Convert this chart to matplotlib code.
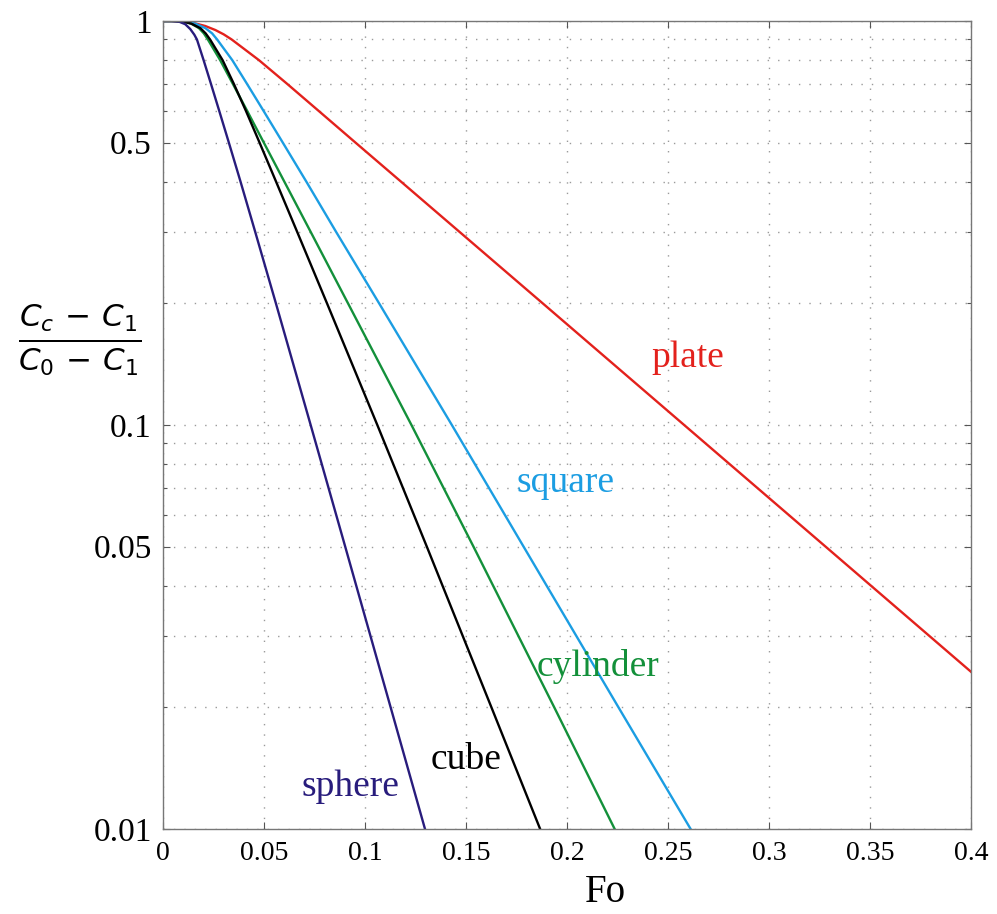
import numpy as np
import matplotlib
matplotlib.use("Agg")
import matplotlib.pyplot as plt
from matplotlib.ticker import FixedLocator, NullFormatter

# values (Fo, centre concentration ratio)
plate_fo = [0, 0.004, 0.0098, 0.0154, 0.0209, 0.0259, 0.030, 0.034, 0.0475, 0.0613, 0.0769,
            0.0953, 0.1179, 0.147, 0.188, 0.258, 0.328, 0.400]
plate_c = [1.0, 1.0, 0.997, 0.988, 0.972, 0.95, 0.927, 0.9, 0.8, 0.7, 0.6,
           0.5, 0.4, 0.3, 0.2, 0.1, 0.05, 0.0245]

square_fo = [0, 0.006, 0.011, 0.016, 0.021, 0.0243, 0.0268, 0.0343, 0.0415, 0.0497, 0.0593, 0.0710,
             0.0858, 0.1070, 0.1430, 0.1785, 0.2255, 0.2612]
square_c = [1.0, 1.0, 0.997, 0.985, 0.96, 0.932, 0.9, 0.8, 0.7, 0.6, 0.5, 0.4,
            0.3, 0.2, 0.1, 0.05, 0.02, 0.01]

cylinder_fo = [0, 0.006, 0.010, 0.014, 0.0178, 0.0202, 0.0222, 0.0283, 0.0345, 0.0416, 0.0499, 0.0601,
               0.0732, 0.0916, 0.1230, 0.1537, 0.1937, 0.2236]
cylinder_c = [1.0, 1.0, 0.997, 0.985, 0.96, 0.932, 0.9, 0.8, 0.7, 0.6, 0.5, 0.4,
              0.3, 0.2, 0.1, 0.05, 0.02, 0.01]

cube_fo = [0, 0.006, 0.010, 0.014, 0.0185, 0.0211, 0.0233, 0.0295, 0.0350, 0.0410, 0.0478, 0.0560,
           0.0665, 0.0812, 0.1061, 0.1306, 0.1626, 0.1867]
cube_c = [1.0, 1.0, 0.997, 0.985, 0.96, 0.932, 0.9, 0.8, 0.7, 0.6, 0.5, 0.4,
          0.3, 0.2, 0.1, 0.05, 0.02, 0.01]

sphere_fo = [0, 0.004, 0.008, 0.011, 0.0135, 0.0155, 0.0168, 0.0201, 0.0237, 0.0278, 0.0326,
             0.0384, 0.0457, 0.0559, 0.0731, 0.0902, 0.1127, 0.1297]
sphere_c = [1.0, 1.0, 0.996, 0.982, 0.955, 0.925, 0.9, 0.8, 0.7, 0.6, 0.5,
            0.4, 0.3, 0.2, 0.1, 0.05, 0.02, 0.01]

x_ticks = [0, 0.05, 0.1, 0.15, 0.2, 0.25, 0.3, 0.35, 0.4]
x_labels = ["0", "0.05", "0.1", "0.15", "0.2", "0.25", "0.3", "0.35", "0.4"]
y_ticks = [0.01, 0.05, 0.1, 0.5, 1]
y_labels = ["0.01", "0.05", "0.1", "0.5", "1"]
y_minor = [0.02, 0.03, 0.04, 0.06, 0.07, 0.08, 0.09, 0.2, 0.3, 0.4, 0.6, 0.7, 0.8, 0.9]

SERIF = "Liberation Serif"
plt.rcParams["font.family"] = SERIF
plt.rcParams["mathtext.fontset"] = "dejavusans"

fig = plt.figure(figsize=(9.97, 9.14), dpi=100)
ax = fig.add_axes([163 / 997, 85 / 914, 808 / 997, 808 / 914])

curves = [
    (plate_fo, plate_c, "#e3211c", "plate", 0.260, 0.147),
    (square_fo, square_c, "#1b9de2", "square", 0.1995, 0.0718),
    (cylinder_fo, cylinder_c, "#13903a", "cylinder", 0.2153, 0.0252),
    (cube_fo, cube_c, "#000000", "cube", 0.150, 0.0148),
    (sphere_fo, sphere_c, "#281c7c", "sphere", 0.0926, 0.0127),
]

for fo, c, color, name, tx, ty in curves:
    ax.plot(fo, c, color=color, lw=1.7, solid_joinstyle="round")
    ax.text(tx, ty, name, color=color, fontsize=27, ha="center", va="center")

ax.set_yscale("log")
ax.set_xlim(0, 0.4)
ax.set_ylim(0.01, 1)

ax.xaxis.set_major_locator(FixedLocator(x_ticks))
ax.set_xticklabels(x_labels)
ax.yaxis.set_major_locator(FixedLocator(y_ticks))
ax.set_yticklabels(y_labels)
ax.yaxis.set_minor_locator(FixedLocator(y_minor))
ax.yaxis.set_minor_formatter(NullFormatter())

ax.tick_params(axis="both", which="major", direction="in", length=5, width=0.8,
               colors="#555555", labelcolor="black", top=True, right=True)
ax.tick_params(axis="x", labelsize=20, pad=9)
ax.tick_params(axis="y", labelsize=24, pad=8)
ax.tick_params(axis="y", which="minor", direction="in", length=3, width=0.8,
               colors="#555555", right=True)

# sparse dotted grid like the original
ax.grid(True, which="major", axis="x", color="#9a9a9a", ls=(0, (1, 6.5)), lw=1.0)
ax.grid(True, which="both", axis="y", color="#9a9a9a", ls=(0, (1, 6.5)), lw=1.0)

for sp in ax.spines.values():
    sp.set_color("#777777")
    sp.set_linewidth(1.0)

ax.set_xlabel("Fo", fontsize=28)
ax.xaxis.set_label_coords(0.548, -0.079)
ax.xaxis.label.set_verticalalignment("center")

ax.text(-0.103, 0.606, r"$\frac{C_c\,-\,C_1}{C_0\,-\,C_1}$", transform=ax.transAxes,
        fontsize=32, ha="center", va="center")

fig.savefig("out.png", dpi=100)
